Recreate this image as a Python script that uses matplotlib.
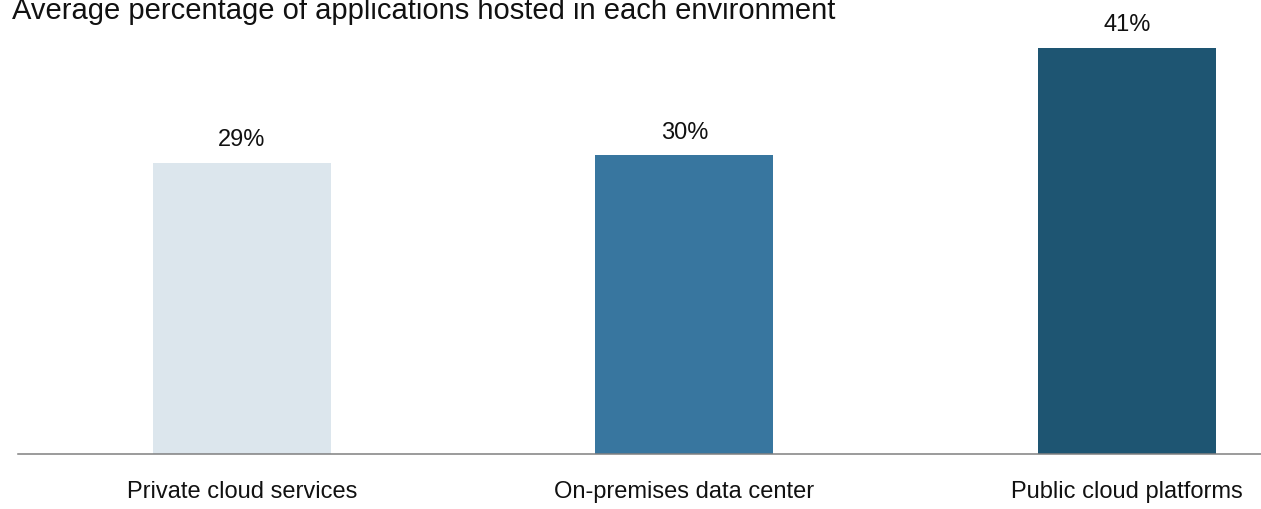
import matplotlib.pyplot as plt

plt.rcParams['font.family'] = ['Liberation Sans', 'DejaVu Sans']

# data (bar heights), labels as printed
categories = ['Private cloud services', 'On-premises data center', 'Public cloud platforms']
values = [29.2, 30.0, 40.8]
labels = ['29%', '30%', '41%']
colors = ['#dce6ed', '#38769f', '#1e5572']

fig = plt.figure(figsize=(12.61, 5.09), dpi=100)
ax = fig.add_axes([18/1261, 55/509, 1 - 18/1261, 454/509])

x = range(len(categories))
bars = ax.bar(x, values, width=0.402, color=colors)
for xi, v, lab in zip(x, values, labels):
    ax.annotate(lab, (xi, v), xytext=(0, 12.2), textcoords='offset points',
                ha='center', va='baseline', fontsize=17, color='#111111')

ax.set_xlim(-0.506, 2.303)
ax.set_ylim(0, 45.62)
ax.set_xticks(list(x))
ax.set_xticklabels(categories, fontsize=17, color='#111111')
ax.tick_params(axis='x', length=0, pad=19.5)
ax.set_yticks([])
for s in ('top', 'right', 'left'):
    ax.spines[s].set_visible(False)
ax.spines['bottom'].set_color('#808080')
ax.spines['bottom'].set_linewidth(1.1)

fig.text(12/1261, 1 - 19/509, 'Average percentage of applications hosted in each environment',
         fontsize=21, ha='left', va='baseline', color='#111111')

fig.savefig('out.png', dpi=100)
